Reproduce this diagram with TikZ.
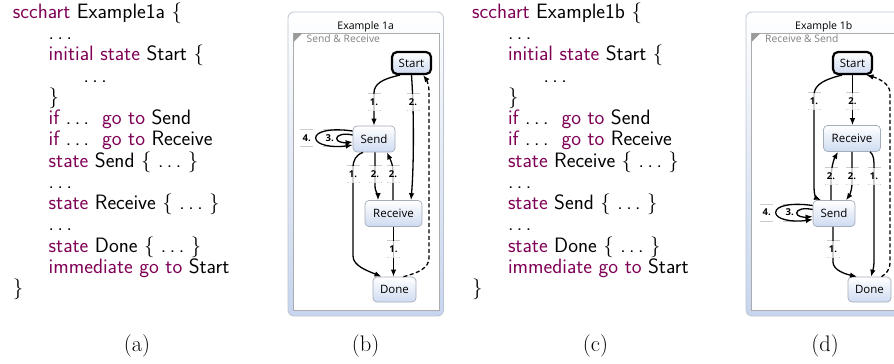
\documentclass[tikz,border=0pt]{standalone}
\usepackage{fontspec}
\newfontfamily\kfont{Open Sans}
\usetikzlibrary{arrows.meta,calc}
\definecolor{kw}{RGB}{127,0,85}
\definecolor{stateborder}{RGB}{165,172,186}
\definecolor{stateblue}{RGB}{206,219,241}
\definecolor{outerborder}{RGB}{188,196,210}
\definecolor{outerblue}{RGB}{198,213,238}
\definecolor{innerborder}{RGB}{172,172,172}
\definecolor{barc}{RGB}{205,205,205}
\definecolor{subc}{RGB}{128,128,128}
\pgfdeclarelayer{frame}
\pgfdeclarelayer{bars}
\pgfsetlayers{frame,bars,main}
\newcommand\kwd[1]{\textcolor{kw}{#1}}
\newcommand\dts{.\kern0.17em.\kern0.17em.}
\newcommand\codeln[4]{\node[codetext] (#1) at (#2,#3) {#4};}
\newcommand\elab[3]{\node[elab] (#1) at #2 {#3};
  \begin{pgfonlayer}{bars}\draw[bar] ($(#1)+(-6.5,-8.5)$) -- ($(#1)+(6.5,-8.5)$) ($(#1)+(-6.5,8.5)$) -- ($(#1)+(6.5,8.5)$);\end{pgfonlayer}}
\newcommand\llab[3]{\node[elab,minimum height=0pt,inner sep=0.5pt] (#1) at #2 {#3};
  \begin{pgfonlayer}{bars}\draw[bar] ($(#1)+(-6.5,-8.5)$) -- ($(#1)+(6.5,-8.5)$) ($(#1)+(-6.5,8.5)$) -- ($(#1)+(6.5,8.5)$);\end{pgfonlayer}}
\newcommand\sendloops[1]{%
  \draw[trans] ($(#1.west)+(0,-4)$) .. controls ($(#1.west)+(-9,-6)$) and ($(#1.west)+(-16,-4)$) .. ($(#1.west)+(-16,-0.5)$) .. controls ($(#1.west)+(-16,3)$) and ($(#1.west)+(-9,4)$) .. ($(#1.west)+(0,3)$);
  \draw[trans] ($(#1.west)+(0,-8)$) .. controls ($(#1.west)+(-21,-11)$) and ($(#1.west)+(-37,-8)$) .. ($(#1.west)+(-37,-1)$) .. controls ($(#1.west)+(-37,6)$) and ($(#1.west)+(-20,9)$) .. ($(#1.west)+(0,6)$);}
\newcommand\panelframe[2]{% x0, x1
  \begin{pgfonlayer}{frame}
  \path[draw=outerborder, line width=0.8pt, rounded corners=6pt, top color=white, bottom color=outerblue] (#1,12) rectangle (#2,316);
  \path[draw=innerborder, fill=white, line width=0.7pt] ($(#1,33)+(5.5,0)$) rectangle ($(#2,310.5)+(-4.5,0)$);
  \fill[subc!80] ($(#1,33)+(5.5,0)$) -- ($(#1,33)+(14.5,0)$) -- ($(#1,42)+(5.5,0)$) -- cycle;
  \end{pgfonlayer}}
\begin{document}
\begin{tikzpicture}[x=1pt,y=-1pt,
  codetext/.style={font=\fontsize{20.8}{22}\selectfont\sffamily, inner sep=0pt, anchor=base west},
  sublabel/.style={font=\fontsize{22.5}{24}\selectfont\rmfamily, inner sep=0pt, anchor=base},
  paneltitle/.style={font=\kfont\fontsize{10.5}{12}\selectfont, inner sep=0pt, anchor=base},
  subtitle/.style={font=\kfont\fontsize{10.3}{12}\selectfont, text=subc, inner sep=0pt, anchor=base west},
  state/.style={draw=stateborder, line width=0.7pt, rounded corners=4pt, top color=white, bottom color=stateblue, font=\kfont\fontsize{11.5}{13}\selectfont, inner sep=0pt},
  startstate/.style={state, draw=black, line width=2.2pt, rounded corners=5pt},
  trans/.style={draw=black, line width=1.3pt, -{Latex[length=7pt,width=5.5pt]}},
  dashtrans/.style={trans, dash pattern=on 4pt off 2.5pt},
  elab/.style={font=\kfont\bfseries\fontsize{9.5}{11}\selectfont, fill=white, fill opacity=0.72, text opacity=1, inner sep=1pt, minimum height=17pt, minimum width=11pt},
  bar/.style={draw=barc, line width=1pt}]
\useasboundingbox (0,0) rectangle (894,364);
\clip (0,0) rectangle (894,364);

% ---------- (a) code ----------
\codeln{a1}{12.7}{18.3}{\kwd{scchart} Example1a \{}
\codeln{a2}{48.5}{39.55}{\dts}
\codeln{a3}{48.5}{60.8}{\kwd{initial state} Start \{}
\codeln{a4}{83.3}{82.05}{\dts}
\codeln{a5}{48.5}{103.3}{\}}
\codeln{a6}{48.5}{124.55}{\kwd{if} \dts\ \ \kwd{go to} Send}
\codeln{a7}{48.5}{145.8}{\kwd{if} \dts\ \ \kwd{go to} Receive}
\codeln{a8}{48.5}{167.05}{\kwd{state} Send \{ \dts\ \}}
\codeln{a9}{48.5}{188.3}{\dts}
\codeln{a10}{48.5}{209.55}{\kwd{state} Receive \{ \dts\ \}}
\codeln{a11}{48.5}{230.8}{\dts}
\codeln{a12}{48.5}{252.05}{\kwd{state} Done \{ \dts\ \}}
\codeln{a13}{48.5}{273.3}{\kwd{immediate go to} Start}
\codeln{a14}{12.7}{294.55}{\}}

% ---------- (c) code ----------
\codeln{c1}{472}{18.3}{\kwd{scchart} Example1b \{}
\codeln{c2}{507.8}{39.55}{\dts}
\codeln{c3}{507.8}{60.8}{\kwd{initial state} Start \{}
\codeln{c4}{543.3}{82.05}{\dts}
\codeln{c5}{507.8}{103.3}{\}}
\codeln{c6}{507.8}{124.55}{\kwd{if} \dts\ \ \kwd{go to} Send}
\codeln{c7}{507.8}{145.8}{\kwd{if} \dts\ \ \kwd{go to} Receive}
\codeln{c8}{507.8}{167.05}{\kwd{state} Receive \{ \dts\ \}}
\codeln{c9}{507.8}{188.3}{\dts}
\codeln{c10}{507.8}{209.55}{\kwd{state} Send \{ \dts\ \}}
\codeln{c11}{507.8}{230.8}{\dts}
\codeln{c12}{507.8}{252.05}{\kwd{state} Done \{ \dts\ \}}
\codeln{c13}{507.8}{273.3}{\kwd{immediate go to} Start}
\codeln{c14}{472}{294.55}{\}}

% ---------- sub labels ----------
\node[sublabel] (la) at (137,351.5) {(a)};
\node[sublabel] (lb) at (365.5,351.5) {(b)};
\node[sublabel] (lc) at (595.5,351.5) {(c)};
\node[sublabel] (ld) at (825,351.5) {(d)};

% ---------- (b) diagram ----------
\panelframe{288}{443.5}
\node[paneltitle] (bTitle) at (365.7,29) {Example 1a};
\node[subtitle] (bSub) at (306.5,42.5) {Send \& Receive};
\node[startstate, minimum width=39pt, minimum height=22pt] (bStart) at (411.5,63) {Start};
\node[state, minimum width=42pt, minimum height=26pt] (bSend) at (374,139) {Send};
\node[state, minimum width=57pt, minimum height=26pt] (bReceive) at (393.5,213.5) {Receive};
\node[state, minimum width=43pt, minimum height=25pt] (bDone) at (394.5,289.5) {Done};

\draw[trans] ($(bStart.south)+(-11.5,0)$) .. controls (382,79) and (374,84) .. (374,93) -- (bSend.north);
\draw[trans] (bStart.south) .. controls (414,110) and (414,165) .. ($(bReceive.north)+(17.5,0)$);
\sendloops{bSend}
\draw[trans] ($(bSend.south)+(-11,0)$) .. controls (356,155) and (353,160) .. (353,168) -- (353,256) .. controls (353,266) and (368,271) .. ($(bDone.north)+(-13,0)$);
\draw[trans] ($(bSend.south)+(1,0)$) -- (375,185) .. controls (375,192) and (378,195) .. ($(bReceive.north)+(-15.5,0)$);
\draw[trans] ($(bReceive.north)+(-0.5,0)$) -- (393,172) .. controls (393,163) and (389,157) .. ($(bSend.south)+(13,0)$);
\draw[trans] (bReceive.south) -- ($(bDone.north)+(-1,0)$);
\draw[dashtrans] ($(bDone.north)+(9,0)$) .. controls (418,273) and (429,268) .. (429,258) -- (429,92) .. controls (429,84) and (426,79) .. ($(bStart.south)+(11.5,0)$);

\elab{bl1}{(374,102)}{1.}
\elab{bl2}{(413,102)}{2.}
\llab{bl3}{($(bSend.west)+(-23,-1)$)}{3.}
\llab{bl4}{($(bSend.west)+(-46,-1)$)}{4.}
\elab{bl5}{(353,174)}{1.}
\elab{bl6}{(375,174)}{2.}
\elab{bl7}{(393,174)}{2.}
\elab{bl8}{(393.5,249)}{1.}

% ---------- (d) diagram ----------
\panelframe{746}{901.5}
\node[paneltitle] (dTitle) at (823.7,29) {Example 1b};
\node[subtitle] (dSub) at (765,42.5) {Receive \& Send};
\node[startstate, minimum width=39pt, minimum height=22pt] (dStart) at (852.5,63) {Start};
\node[state, minimum width=57pt, minimum height=26pt] (dReceive) at (852,138.5) {Receive};
\node[state, minimum width=42pt, minimum height=26pt] (dSend) at (834,213.5) {Send};
\node[state, minimum width=43pt, minimum height=25pt] (dDone) at (869.5,289.5) {Done};

\draw[trans] ($(dStart.south)+(-10.5,0)$) .. controls (826,79) and (814,84) .. (814,95) -- (814,188) .. controls (814,194) and (816,198) .. ($(dSend.north)+(-13,0)$);
\draw[trans] (dStart.south) -- ($(dReceive.north)+(0.5,0)$);
\draw[trans] ($(dSend.north)+(-3,0)$) -- (831,180) .. controls (831,167) and (834,159) .. ($(dReceive.south)+(-14,0)$);
\draw[trans] (dReceive.south) -- (852,183) .. controls (852,191) and (849,196) .. ($(dSend.north)+(12,0)$);
\draw[trans] ($(dReceive.south)+(18,0)$) .. controls (874,155) and (874,160) .. (874,168) -- (874,262) .. controls (874,268) and (872,273) .. ($(dDone.north)+(1.5,0)$);
\sendloops{dSend}
\draw[trans] ($(dSend.south)+(-1,0)$) -- (833,262) .. controls (833,270) and (845,274) .. ($(dDone.north)+(-12.5,0)$);
\draw[dashtrans] ($(dDone.north)+(12,0)$) .. controls (886,274) and (890,270) .. (890,262) -- (890,93) .. controls (890,83) and (877,78) .. ($(dStart.south)+(14,0)$);

\elab{dl1}{(814,101)}{1.}
\elab{dl2}{(852.5,101)}{2.}
\elab{dl3}{(831,176)}{2.}
\elab{dl4}{(852,176)}{2.}
\elab{dl5}{(874,176)}{1.}
\llab{dl6}{($(dSend.west)+(-23,-1)$)}{3.}
\llab{dl7}{($(dSend.west)+(-46,-1)$)}{4.}
\elab{dl8}{(833,249)}{1.}
\end{tikzpicture}
\end{document}
